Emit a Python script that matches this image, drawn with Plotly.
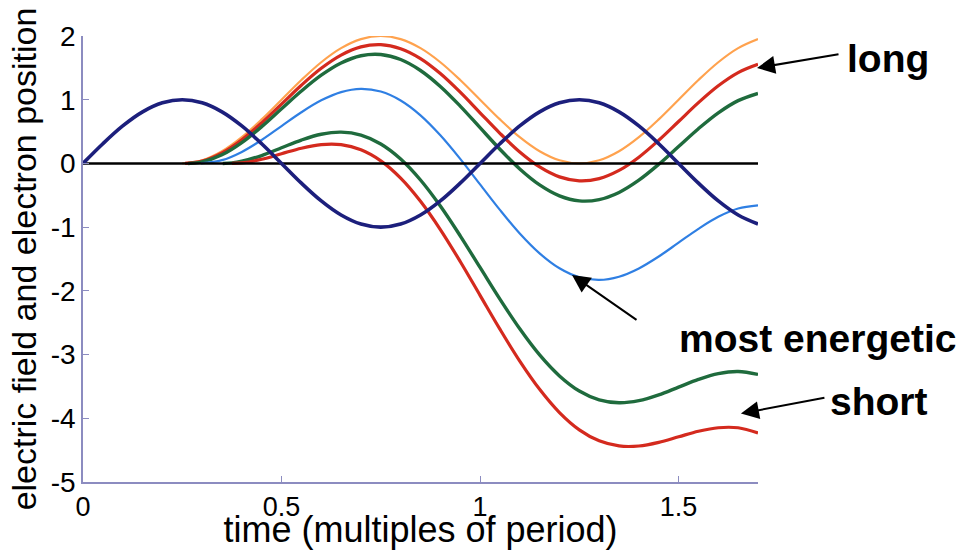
import plotly.graph_objects as go

# time grid (multiples of period)
t_full = [0.00, 0.05, 0.10, 0.15, 0.20, 0.25, 0.30, 0.35, 0.40, 0.45, 0.50, 0.55, 0.60, 0.65,
          0.70, 0.75, 0.80, 0.85, 0.90, 0.95, 1.00, 1.05, 1.10, 1.15, 1.20, 1.25, 1.30, 1.35,
          1.40, 1.45, 1.50, 1.55, 1.60, 1.65, 1.70]
field = [0.0, 0.309, 0.588, 0.809, 0.951, 1.0, 0.951, 0.809, 0.588, 0.309, 0.0, -0.309, -0.588,
         -0.809, -0.951, -1.0, -0.951, -0.809, -0.588, -0.309, 0.0, 0.309, 0.588, 0.809, 0.951,
         1.0, 0.951, 0.809, 0.588, 0.309, 0.0, -0.309, -0.588, -0.809, -0.951]

t_orange = [0.25, 0.30, 0.35, 0.40, 0.45, 0.50, 0.55, 0.60, 0.65, 0.70, 0.75, 0.80, 0.85, 0.90,
            0.95, 1.00, 1.05, 1.10, 1.15, 1.20, 1.25, 1.30, 1.35, 1.40, 1.45, 1.50, 1.55, 1.60,
            1.65, 1.70]
x_orange = [0.0, 0.049, 0.191, 0.412, 0.691, 1.0, 1.309, 1.588, 1.809, 1.951, 2.0, 1.951, 1.809,
            1.588, 1.309, 1.0, 0.691, 0.412, 0.191, 0.049, 0.0, 0.049, 0.191, 0.412, 0.691, 1.0,
            1.309, 1.588, 1.809, 1.951]

t_long_red = [0.257, 0.30, 0.35, 0.40, 0.45, 0.50, 0.55, 0.60, 0.65, 0.70, 0.75, 0.80, 0.85,
              0.90, 0.95, 1.00, 1.05, 1.10, 1.15, 1.20, 1.25, 1.30, 1.35, 1.40, 1.45, 1.50,
              1.55, 1.60, 1.65, 1.70]
x_long_red = [0.0, 0.036, 0.165, 0.372, 0.637, 0.932, 1.228, 1.493, 1.700, 1.829, 1.864, 1.801,
              1.646, 1.411, 1.118, 0.795, 0.473, 0.180, -0.055, -0.211, -0.273, -0.238, -0.110,
              0.098, 0.363, 0.658, 0.954, 1.219, 1.426, 1.555]

t_long_green = [0.265, 0.30, 0.35, 0.40, 0.45, 0.50, 0.55, 0.60, 0.65, 0.70, 0.75, 0.80, 0.85,
                0.90, 0.95, 1.00, 1.05, 1.10, 1.15, 1.20, 1.25, 1.30, 1.35, 1.40, 1.45, 1.50,
                1.55, 1.60, 1.65, 1.70]
x_long_green = [0.0, 0.024, 0.136, 0.328, 0.577, 0.857, 1.136, 1.385, 1.577, 1.690, 1.709, 1.631,
                1.459, 1.208, 0.900, 0.561, 0.223, -0.086, -0.336, -0.508, -0.587, -0.567,
                -0.455, -0.263, -0.014, 0.266, 0.545, 0.794, 0.986, 1.099]

t_energetic = [0.297, 0.35, 0.40, 0.45, 0.50, 0.55, 0.60, 0.65, 0.70, 0.75, 0.80, 0.85, 0.90,
               0.95, 1.00, 1.05, 1.10, 1.15, 1.20, 1.25, 1.30, 1.35, 1.40, 1.45, 1.50, 1.55,
               1.60, 1.65, 1.70]
x_energetic = [0.0, 0.051, 0.181, 0.368, 0.586, 0.803, 0.990, 1.120, 1.171, 1.128, 0.988,
               0.755, 0.442, 0.072, -0.329, -0.729, -1.100, -1.412, -1.646, -1.786, -1.829,
               -1.778, -1.648, -1.461, -1.243, -1.026, -0.838, -0.708, -0.658]

t_short_green = [0.352, 0.375, 0.40, 0.45, 0.50, 0.55, 0.60, 0.65, 0.70, 0.75, 0.80, 0.85, 0.90,
                 0.95, 1.00, 1.05, 1.10, 1.15, 1.20, 1.25, 1.30, 1.35, 1.40, 1.45, 1.50, 1.55,
                 1.60, 1.65, 1.70]
x_short_green = [0.0, 0.008, 0.034, 0.124, 0.246, 0.367, 0.458, 0.491, 0.445, 0.306, 0.070,
                 -0.260, -0.669, -1.136, -1.633, -2.130, -2.596, -3.006, -3.335, -3.572, -3.711,
                 -3.757, -3.724, -3.633, -3.511, -3.390, -3.299, -3.266, -3.312]

t_short_red = [0.375, 0.40, 0.45, 0.50, 0.55, 0.60, 0.65, 0.70, 0.75, 0.80, 0.85, 0.90, 0.95,
               1.00, 1.05, 1.10, 1.15, 1.20, 1.25, 1.30, 1.35, 1.40, 1.45, 1.50, 1.55, 1.60,
               1.65, 1.70]
x_short_red = [0.0, 0.008, 0.065, 0.152, 0.239, 0.295, 0.294, 0.214, 0.041, -0.230, -0.594,
               -1.038, -1.539, -2.070, -2.601, -3.102, -3.545, -3.910, -4.181, -4.354, -4.434,
               -4.435, -4.378, -4.291, -4.204, -4.148, -4.149, -4.229]

zero_t = [0.0, 1.7]
zero_x = [0.0, 0.0]

y_ticks = [-5, -4, -3, -2, -1, 0, 1, 2]
y_labels = ["-5", "-4", "-3", "-2", "-1", "0", "1", "2"]
x_ticks = [0, 0.5, 1, 1.5]
x_labels = ["0", "0.5", "1", "1.5"]

ORANGE = "#FFA24E"
RED = "#D42A1E"
GREEN = "#1F6B3D"
BLUE = "#2F7FE3"
NAVY = "#1C1F7C"

fig = go.Figure()

def add(t, x, color, width):
    fig.add_trace(go.Scatter(x=t, y=x, mode="lines",
                             line=dict(color=color, width=width, shape="spline", smoothing=1.0),
                             hoverinfo="skip", showlegend=False))

add(t_orange, x_orange, ORANGE, 2.2)
add(t_long_red, x_long_red, RED, 3.2)
add(t_long_green, x_long_green, GREEN, 3.4)
add(t_energetic, x_energetic, BLUE, 2.2)
add(t_short_green, x_short_green, GREEN, 3.4)
add(t_short_red, x_short_red, RED, 3.2)
fig.add_trace(go.Scatter(x=zero_t, y=zero_x, mode="lines", line=dict(color="black", width=2.5),
                         hoverinfo="skip", showlegend=False))
add(t_full, field, NAVY, 3.6)

axis_color = "#8C8CC0"
font_family = "Liberation Sans, Arial, sans-serif"

fig.update_layout(
    width=964, height=550,
    margin=dict(l=83, r=206, t=36, b=68),
    paper_bgcolor="white", plot_bgcolor="white",
    font=dict(family=font_family, color="black"),
    xaxis=dict(range=[0, 1.7], tickvals=x_ticks, ticktext=x_labels, ticks="inside", ticklen=6,
               tickcolor=axis_color, showline=True, linecolor=axis_color, linewidth=1.5,
               showgrid=False, zeroline=False, tickfont=dict(size=27), automargin=False,
               title=dict(text="time (multiples of period)", font=dict(size=36), standoff=2)),
    yaxis=dict(range=[-5, 2], tickvals=y_ticks, ticktext=y_labels, ticks="inside", ticklen=6,
               tickcolor=axis_color, showline=True, linecolor=axis_color, linewidth=1.5,
               showgrid=False, zeroline=False, tickfont=dict(size=28), automargin=False,
               title=dict(text="electric field and electron position", font=dict(size=34), standoff=4)),
)

arrow_kw = dict(showarrow=True, arrowhead=2, arrowsize=1.8, arrowwidth=2, arrowcolor="black",
                xref="x", yref="y", text="")
fig.add_annotation(x=1.6975, y=1.498, ax=83, ay=-14, **arrow_kw)
fig.add_annotation(x=1.2316, y=-1.75, ax=66, ay=46, **arrow_kw)
fig.add_annotation(x=1.657, y=-3.926, ax=85, ay=-16, **arrow_kw)

text_kw = dict(showarrow=False, xref="paper", yref="paper", xanchor="left", yanchor="middle",
               font=dict(size=39, family=font_family, color="black"))
fig.add_annotation(x=1.1289, y=0.9505, text="<b>long</b>", **text_kw)
fig.add_annotation(x=0.880, y=0.3221, text="<b>most energetic</b>", **text_kw)
fig.add_annotation(x=1.1037, y=0.1802, text="<b>short</b>", **text_kw)

fig.write_html("out.html", config={"displayModeBar": False},
               post_script="document.body.style.margin='0';")
